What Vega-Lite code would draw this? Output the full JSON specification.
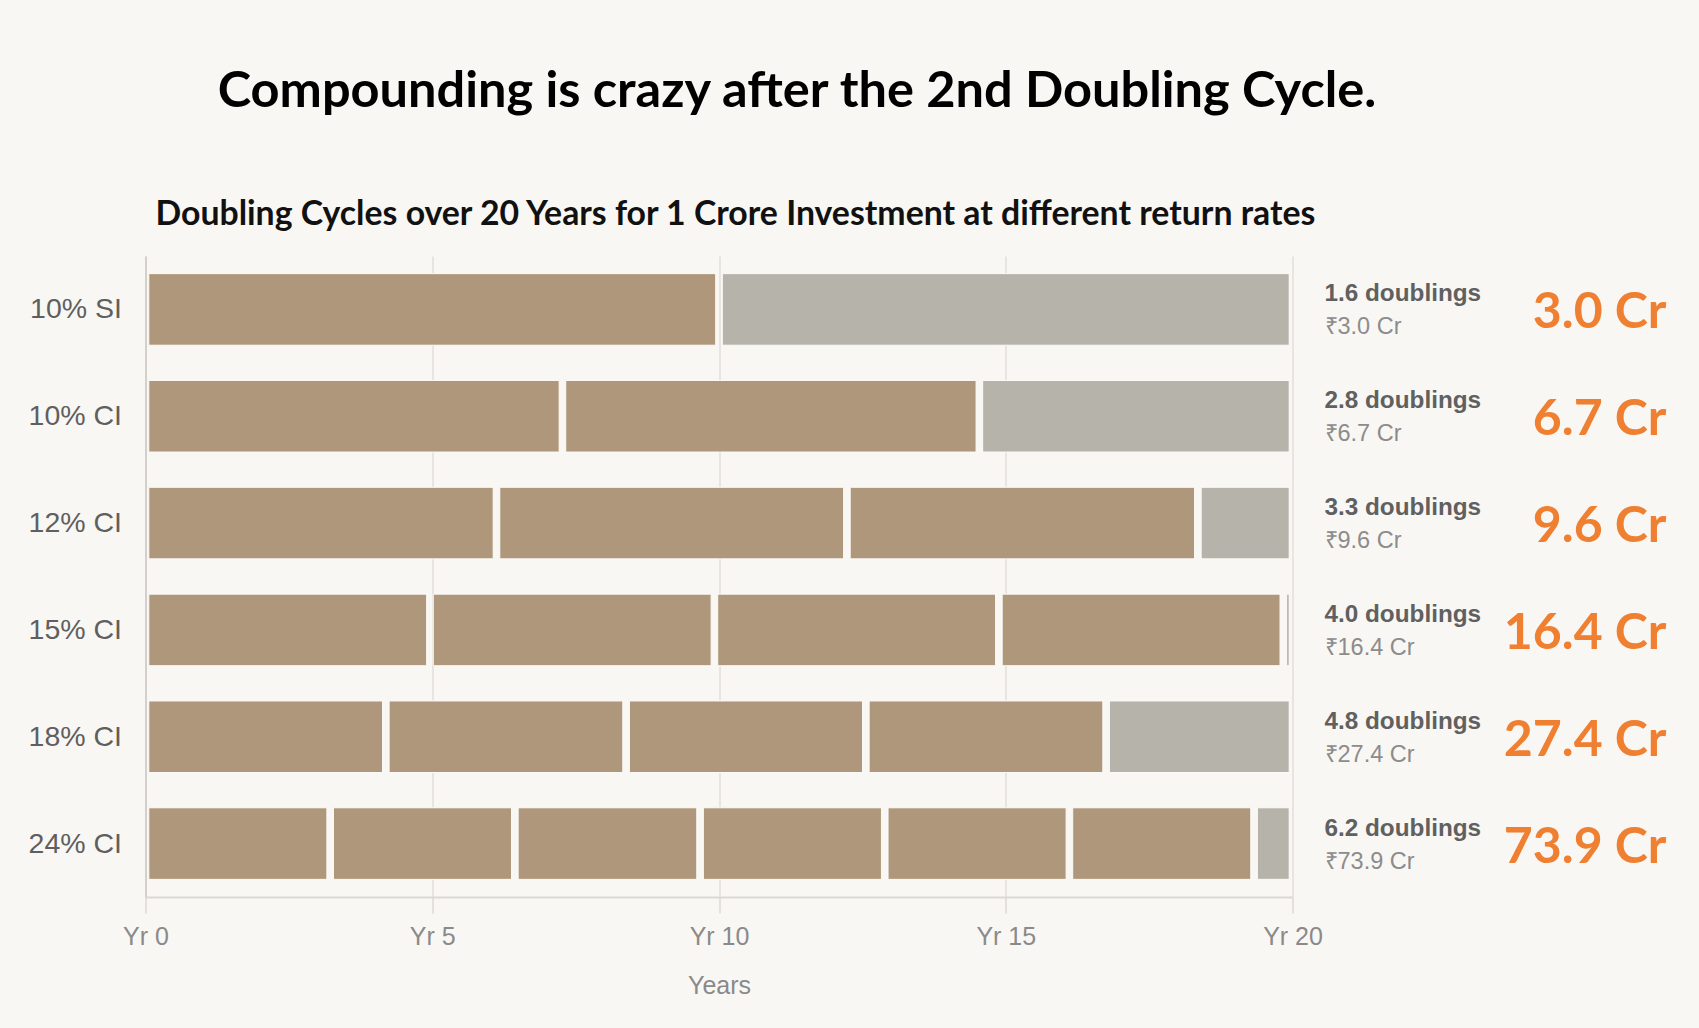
{
  "$schema": "https://vega.github.io/schema/vega-lite/v6.json",
  "width": 1147,
  "height": 641,
  "autosize": {"type": "none"},
  "padding": {"left": 145.5, "top": 256, "right": 406.5, "bottom": 131},
  "background": "#f9f7f3",
  "config": {"view": {"stroke": null}, "font": "Liberation Sans"},
  "title": {
    "text": "Compounding is crazy after the 2nd Doubling Cycle.",
    "font": "Lato",
    "fontSize": 50.5,
    "fontWeight": "bold",
    "color": "#000000",
    "anchor": "middle",
    "frame": "group",
    "baseline": "alphabetic",
    "dx": 78,
    "offset": 40
  },
  "datasets": {
    "segments": [
      {"rate": "10% SI", "start": 0, "end": 10, "kind": "full"},
      {"rate": "10% SI", "start": 10, "end": 20, "kind": "partial"},
      {"rate": "10% CI", "start": 0, "end": 7.27, "kind": "full"},
      {"rate": "10% CI", "start": 7.27, "end": 14.54, "kind": "full"},
      {"rate": "10% CI", "start": 14.54, "end": 20, "kind": "partial"},
      {"rate": "12% CI", "start": 0, "end": 6.12, "kind": "full"},
      {"rate": "12% CI", "start": 6.12, "end": 12.23, "kind": "full"},
      {"rate": "12% CI", "start": 12.23, "end": 18.35, "kind": "full"},
      {"rate": "12% CI", "start": 18.35, "end": 20, "kind": "partial"},
      {"rate": "15% CI", "start": 0, "end": 4.96, "kind": "full"},
      {"rate": "15% CI", "start": 4.96, "end": 9.92, "kind": "full"},
      {"rate": "15% CI", "start": 9.92, "end": 14.88, "kind": "full"},
      {"rate": "15% CI", "start": 14.88, "end": 19.84, "kind": "full"},
      {"rate": "15% CI", "start": 19.84, "end": 20, "kind": "partial"},
      {"rate": "18% CI", "start": 0, "end": 4.19, "kind": "full"},
      {"rate": "18% CI", "start": 4.19, "end": 8.38, "kind": "full"},
      {"rate": "18% CI", "start": 8.38, "end": 12.56, "kind": "full"},
      {"rate": "18% CI", "start": 12.56, "end": 16.75, "kind": "full"},
      {"rate": "18% CI", "start": 16.75, "end": 20, "kind": "partial"},
      {"rate": "24% CI", "start": 0, "end": 3.22, "kind": "full"},
      {"rate": "24% CI", "start": 3.22, "end": 6.44, "kind": "full"},
      {"rate": "24% CI", "start": 6.44, "end": 9.67, "kind": "full"},
      {"rate": "24% CI", "start": 9.67, "end": 12.89, "kind": "full"},
      {"rate": "24% CI", "start": 12.89, "end": 16.11, "kind": "full"},
      {"rate": "24% CI", "start": 16.11, "end": 19.33, "kind": "full"},
      {"rate": "24% CI", "start": 19.33, "end": 20, "kind": "partial"}
    ],
    "summary": [
      {"rate": "10% SI", "year": 20, "doublings": 1.6, "value": 3.0, "dlabel": "1.6 doublings", "vlabel": "₹3.0 Cr", "big": "3.0 Cr"},
      {"rate": "10% CI", "year": 20, "doublings": 2.8, "value": 6.7, "dlabel": "2.8 doublings", "vlabel": "₹6.7 Cr", "big": "6.7 Cr"},
      {"rate": "12% CI", "year": 20, "doublings": 3.3, "value": 9.6, "dlabel": "3.3 doublings", "vlabel": "₹9.6 Cr", "big": "9.6 Cr"},
      {"rate": "15% CI", "year": 20, "doublings": 4.0, "value": 16.4, "dlabel": "4.0 doublings", "vlabel": "₹16.4 Cr", "big": "16.4 Cr"},
      {"rate": "18% CI", "year": 20, "doublings": 4.8, "value": 27.4, "dlabel": "4.8 doublings", "vlabel": "₹27.4 Cr", "big": "27.4 Cr"},
      {"rate": "24% CI", "year": 20, "doublings": 6.2, "value": 73.9, "dlabel": "6.2 doublings", "vlabel": "₹73.9 Cr", "big": "73.9 Cr"}
    ]
  },
  "layer": [
    {
      "data": {"name": "segments"},
      "mark": {"type": "bar", "xOffset": 3.3, "x2Offset": -3.3, "stroke": "#fcfaf7", "strokeWidth": 1},
      "encoding": {
        "y": {
          "field": "rate",
          "type": "nominal",
          "sort": ["10% SI", "10% CI", "12% CI", "15% CI", "18% CI", "24% CI"],
          "scale": {"paddingInner": 0.33, "paddingOuter": 0.165},
          "axis": {
            "title": "Doubling Cycles over 20 Years for 1 Crore Investment at different return rates",
            "titleX": 9.5,
            "titleY": -32,
            "titleAngle": 0,
            "titleAlign": "left",
            "titleBaseline": "alphabetic",
            "titleFont": "Lato",
            "titleFontSize": 33.8,
            "titleFontWeight": "bold",
            "titleColor": "#111111",
            "domain": true,
            "domainColor": "#d3d0cb",
            "domainWidth": 2,
            "ticks": false,
            "labelFontSize": 28.5,
            "labelColor": "#5f5f5f",
            "labelPadding": 24
          }
        },
        "x": {
          "field": "start",
          "type": "quantitative",
          "scale": {"domain": [0, 20], "nice": false, "zero": true},
          "axis": {
            "values": [0, 5, 10, 15, 20],
            "labelExpr": "'Yr ' + datum.value",
            "labelFlush": false,
            "grid": true,
            "gridColor": "#e8e5e0",
            "gridWidth": 2,
            "domainColor": "#dcd9d4",
            "domainWidth": 2,
            "tickColor": "#e4e1dc",
            "tickWidth": 2,
            "tickSize": 16,
            "labelColor": "#8a8a8a",
            "labelFontSize": 25,
            "labelPadding": 11,
            "title": "Years",
            "titleColor": "#8a8a8a",
            "titleFontSize": 25,
            "titleFontWeight": "normal",
            "titlePadding": 24
          }
        },
        "x2": {"field": "end"},
        "color": {
          "field": "kind",
          "type": "nominal",
          "scale": {"domain": ["full", "partial"], "range": ["#ae977a", "#b6b3ab"]},
          "legend": null
        }
      }
    },
    {
      "data": {"name": "summary"},
      "mark": {"type": "text", "align": "left", "baseline": "alphabetic", "dx": 32, "dy": -8, "fontSize": 24.3, "fontWeight": "bold", "color": "#606060"},
      "encoding": {
        "y": {"field": "rate", "type": "nominal", "sort": ["10% SI", "10% CI", "12% CI", "15% CI", "18% CI", "24% CI"]},
        "x": {"field": "year", "type": "quantitative"},
        "text": {"field": "dlabel"}
      }
    },
    {
      "data": {"name": "summary"},
      "mark": {"type": "text", "align": "left", "baseline": "alphabetic", "dx": 32, "dy": 25, "fontSize": 23.5, "color": "#8c8c8c"},
      "encoding": {
        "y": {"field": "rate", "type": "nominal", "sort": ["10% SI", "10% CI", "12% CI", "15% CI", "18% CI", "24% CI"]},
        "x": {"field": "year", "type": "quantitative"},
        "text": {"field": "vlabel"}
      }
    },
    {
      "data": {"name": "summary"},
      "mark": {"type": "text", "align": "right", "baseline": "alphabetic", "dx": 374, "dy": 19, "font": "Lato", "fontSize": 50, "fontWeight": "bold", "color": "#ef7f31"},
      "encoding": {
        "y": {"field": "rate", "type": "nominal", "sort": ["10% SI", "10% CI", "12% CI", "15% CI", "18% CI", "24% CI"]},
        "x": {"field": "year", "type": "quantitative"},
        "text": {"field": "big"}
      }
    }
  ]
}
